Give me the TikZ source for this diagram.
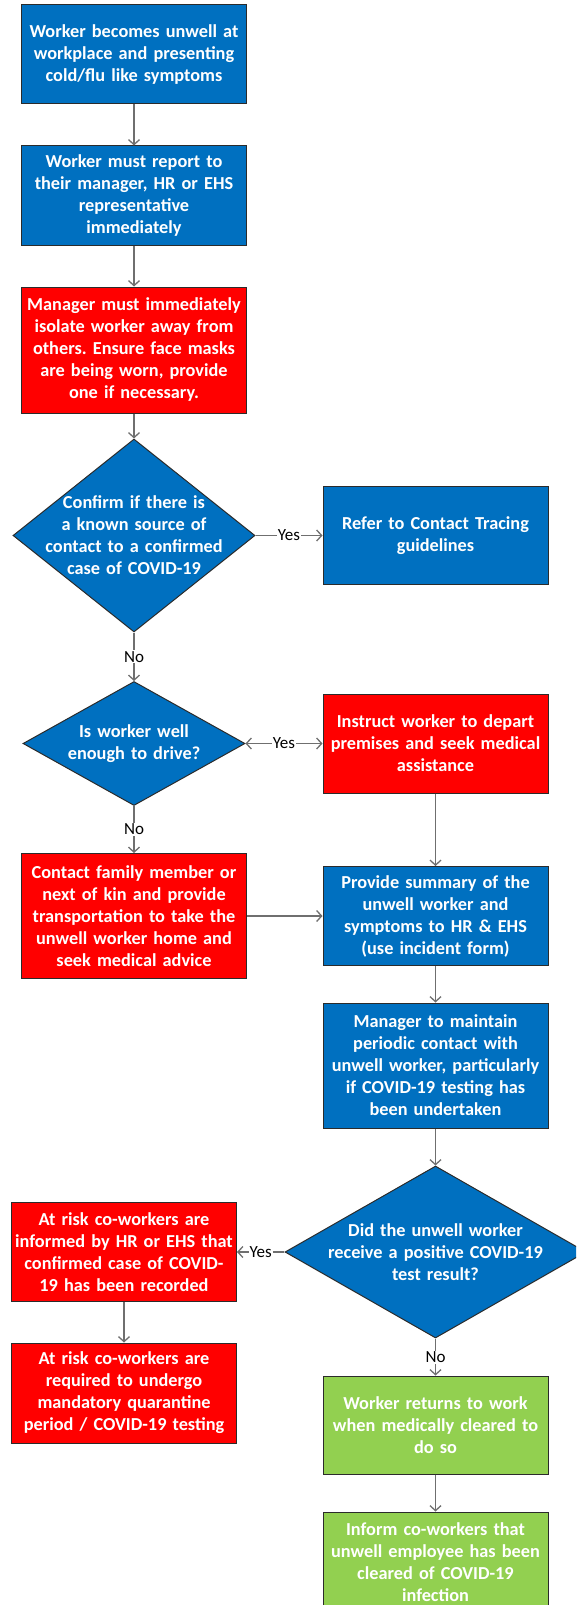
\documentclass[tikz,border=0pt]{standalone}
\usepackage{fontspec}
\setmainfont{Carlito}
\frenchspacing
\usetikzlibrary{shapes.geometric,arrows.meta}
\definecolor{fblue}{HTML}{0070C0}
\definecolor{fred}{HTML}{FF0000}
\definecolor{fgreen}{HTML}{92D050}
\definecolor{lgray}{HTML}{6F6F6F}
\definecolor{edge}{HTML}{2B2B2B}
\begin{document}
\begin{tikzpicture}[x=1pt,y=-1pt,
  box/.style={rectangle, draw=edge, line width=1pt, text=white,
    font=\bfseries\fontsize{18.3}{22}\selectfont, align=center,
    inner xsep=1pt, inner ysep=0pt, text width=223pt, minimum width=225pt},
  blue/.style={fill=fblue},
  redbox/.style={fill=fred},
  greenbox/.style={fill=fgreen},
  dec/.style={diamond, draw=edge, line width=1pt, fill=fblue, text=white,
    font=\bfseries\fontsize{18.3}{22}\selectfont, align=center,
    inner xsep=-120pt, inner ysep=-45pt},
  arr/.style={draw=lgray, line width=1.3pt, -{Straight Barb[length=5pt,width=11pt]}},
  lab/.style={fill=white, inner sep=1pt, text=black, font=\fontsize{17}{18}\selectfont}
]
\useasboundingbox (0,0) rectangle (576,1605);
\clip (0,0) rectangle (576,1605);

\node[box, blue, minimum height=99pt] (b1) at (134,54.5)
  {Worker becomes unwell at\\workplace and presenting\\cold/flu like symptoms};
\node[box, blue, minimum height=100pt] (b2) at (134,196)
  {Worker must report to\\their manager, HR or EHS\\representative\\immediately};
\node[box, redbox, minimum height=126pt] (b3) at (134,350)
  {Manager must immediately\\isolate worker away from\\others. Ensure face masks\\are being worn, provide\\one if necessary.};
\node[dec, text width=240pt, minimum width=242pt, minimum height=193pt] (d1) at (134,535.5)
  {Confirm if there is\\a known source of\\contact to a confirmed\\case of COVID-19};
\node[box, blue, minimum height=98pt] (refer) at (435.5,535.5)
  {Refer to Contact Tracing\\guidelines};
\node[dec, text width=240pt, minimum width=222pt, minimum height=124pt] (d2) at (134,743.5)
  {Is worker well\\enough to drive?};
\node[box, redbox, minimum height=99pt] (instr) at (435.5,743.5)
  {Instruct worker to depart\\premises and seek medical\\assistance};
\node[box, redbox, minimum height=125pt] (contact) at (134,916)
  {Contact family member or\\next of kin and provide\\transportation to take the\\unwell worker home and\\seek medical advice};
\node[box, blue, minimum height=99pt] (prov) at (435.5,916)
  {Provide summary of the\\unwell worker and\\symptoms to HR \& EHS\\(use incident form)};
\node[box, blue, minimum height=125pt] (mgr) at (435.5,1065.5)
  {Manager to maintain\\periodic contact with\\unwell worker, particularly\\if COVID-19 testing has\\been undertaken};
\node[dec, text width=240pt, minimum width=301pt, minimum height=172pt] (d3) at (435.5,1252)
  {Did the unwell worker\\receive a positive COVID-19\\test result?};
\node[box, redbox, minimum height=99pt] (risk1) at (124,1252)
  {At risk co-workers are\\informed by HR or EHS that\\confirmed case of COVID-\\19 has been recorded};
\node[box, redbox, minimum height=100pt] (risk2) at (124,1393)
  {At risk co-workers are\\required to undergo\\mandatory quarantine\\period / COVID-19 testing};
\node[box, greenbox, minimum height=98pt] (g1) at (435.5,1425)
  {Worker returns to work\\when medically cleared to\\do so};
\node[box, greenbox, minimum height=100pt] (g2) at (435.5,1562)
  {Inform co-workers that\\unwell employee has been\\cleared of COVID-19\\infection};

\draw[arr] (b1) -- (b2);
\draw[arr] (b2) -- (b3);
\draw[arr] (b3) -- (d1);
\draw[arr] (d1) -- node[lab] {Yes} (refer);
\draw[arr] (d1) -- node[lab] {No} (d2);
\draw[arr, {Straight Barb[length=5pt,width=11pt]}-{Straight Barb[length=5pt,width=11pt]}] (d2) -- node[lab] {Yes} (instr);
\draw[arr] (d2) -- node[lab] {No} (contact);
\draw[arr] (instr) -- (prov);
\draw[arr] (contact) -- (prov);
\draw[arr] (prov) -- (mgr);
\draw[arr] (mgr) -- (d3);
\draw[arr] (d3) -- node[lab] {Yes} (risk1);
\draw[arr] (risk1) -- (risk2);
\draw[arr] (d3) -- node[lab] {No} (g1);
\draw[arr] (g1) -- (g2);
\end{tikzpicture}
\end{document}
